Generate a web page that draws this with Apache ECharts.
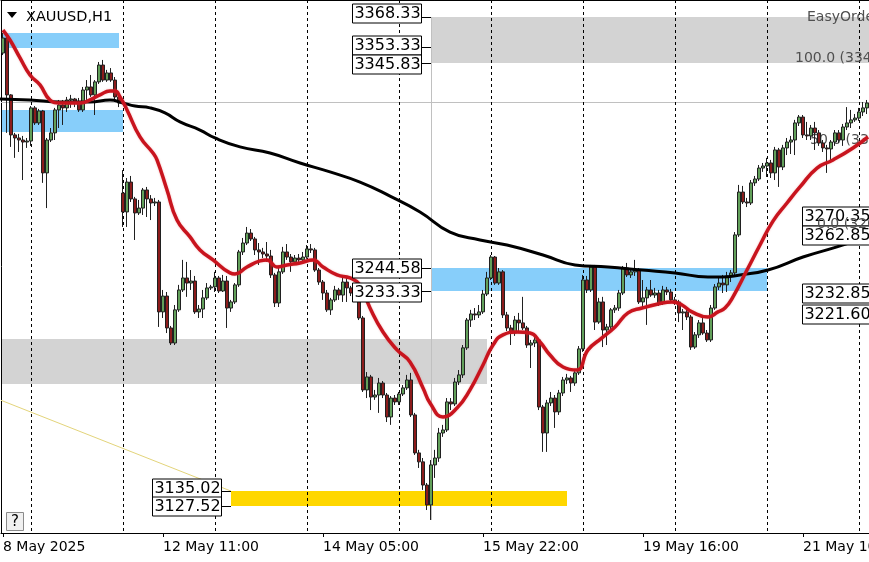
<!DOCTYPE html>
<html><head><meta charset="utf-8">
<script src="https://cdn.jsdelivr.net/npm/echarts@6.0.0/dist/echarts.min.js"></script>
<style>html,body{margin:0;padding:0;background:#fff}#c{width:869px;height:562px}</style>
</head><body><div id="c"></div>
<script>
// ---------- DATA ----------
const tickLabels = ['8 May 2025', '12 May 11:00', '14 May 05:00', '15 May 22:00', '19 May 16:00', '21 May 10:00'];
const barsPerTick = 40;

const opens = [
3350.6,3358.0,3330.0,3310.3,3308.8,3307.8,3306.8,3307.3,3323.6,3316.2,
3322.1,3291.6,3307.8,3311.3,3322.6,3325.0,3323.6,3327.5,3328.0,3326.0,
3322.6,3332.4,3333.9,3330.0,3336.4,3344.7,3337.3,3340.8,3337.3,3329.0,
3281.7,3272.4,3287.1,3278.8,3271.9,3274.3,3283.2,3278.8,3276.8,3277.3,
3223.2,3231.0,3215.3,3207.9,3224.2,3234.0,3239.9,3237.4,3238.4,3223.2,
3224.6,3230.1,3235.0,3235.5,3239.9,3233.5,3238.4,3225.1,3228.1,3236.5,
3252.7,3257.1,3262.0,3259.1,3253.7,3252.7,3251.7,3250.7,3241.4,3227.6,
3242.9,3252.7,3250.2,3247.8,3249.7,3248.8,3250.2,3254.2,3253.7,3243.8,
3237.9,3232.5,3224.2,3229.1,3234.0,3231.5,3237.9,3235.0,3232.5,3235.0,
3220.2,3184.8,3191.2,3181.3,3182.3,3188.2,3182.3,3171.5,3180.8,3178.9,
3182.8,3185.8,3189.7,3172.5,3153.8,3149.4,3138.0,3128.2,3147.9,3151.3,
3163.6,3165.1,3178.9,3177.9,3188.7,3192.2,3205.5,3219.2,3222.2,3221.7,
3223.2,3232.0,3239.9,3250.2,3237.4,3242.9,3221.7,3215.3,3212.8,3219.2,
3217.8,3215.3,3206.9,3207.9,3209.4,3176.4,3163.6,3178.4,3180.8,3174.0,
3183.3,3189.7,3190.7,3188.2,3193.2,3205.0,3238.9,3234.0,3245.3,3218.2,
3228.1,3214.3,3215.8,3224.2,3225.1,3232.5,3244.8,3241.4,3242.9,3243.8,
3228.1,3230.1,3234.0,3231.5,3232.5,3227.6,3234.0,3233.0,3229.1,3228.1,
3222.7,3223.2,3220.7,3205.9,3211.9,3217.8,3212.8,3209.4,3225.1,3235.5,
3237.4,3236.5,3240.9,3242.4,3261.1,3282.2,3277.3,3276.8,3286.7,3288.6,
3294.0,3295.0,3296.5,3291.6,3302.9,3294.5,3303.9,3306.8,3307.8,3316.2,
3319.1,3310.3,3309.8,3313.7,3311.3,3306.3,3303.9,3303.4,3306.8,3311.3,
3307.8,3314.2,3316.2,3317.7,3318.6,3321.6,3323.6];

const closes = [
3358.0,3330.0,3310.3,3308.8,3307.8,3306.8,3307.3,3323.6,3316.2,3322.1,
3291.6,3307.8,3311.3,3322.6,3325.0,3323.6,3327.5,3328.0,3326.0,3322.6,
3332.4,3333.9,3330.0,3336.4,3344.7,3337.3,3340.8,3337.3,3329.0,3326.0,
3272.4,3287.1,3278.8,3271.9,3274.3,3283.2,3278.8,3276.8,3277.3,3223.2,
3231.0,3215.3,3207.9,3224.2,3234.0,3239.9,3237.4,3238.4,3223.2,3224.6,
3230.1,3235.0,3235.5,3239.9,3233.5,3238.4,3225.1,3228.1,3236.5,3252.7,
3257.1,3262.0,3259.1,3253.7,3252.7,3251.7,3250.7,3241.4,3227.6,3242.9,
3252.7,3250.2,3247.8,3249.7,3248.8,3250.2,3254.2,3253.7,3243.8,3237.9,
3232.5,3224.2,3229.1,3234.0,3231.5,3237.9,3235.0,3232.5,3235.0,3220.2,
3184.8,3191.2,3181.3,3182.3,3188.2,3182.3,3171.5,3180.8,3178.9,3182.8,
3185.8,3189.7,3172.5,3153.8,3149.4,3138.0,3128.2,3147.9,3151.3,3163.6,
3165.1,3178.9,3177.9,3188.7,3192.2,3205.5,3219.2,3222.2,3221.7,3223.2,
3232.0,3239.9,3250.2,3237.4,3242.9,3221.7,3215.3,3212.8,3219.2,3217.8,
3215.3,3206.9,3207.9,3209.4,3176.4,3163.6,3178.4,3180.8,3174.0,3183.3,
3189.7,3190.7,3188.2,3193.2,3205.0,3238.9,3234.0,3245.3,3218.2,3228.1,
3214.3,3215.8,3224.2,3225.1,3232.5,3244.8,3241.4,3242.9,3243.8,3228.1,
3230.1,3234.0,3231.5,3232.5,3227.6,3234.0,3233.0,3229.1,3228.1,3222.7,
3223.2,3220.7,3205.9,3211.9,3217.8,3212.8,3209.4,3225.1,3235.5,3237.4,
3236.5,3240.9,3242.4,3261.1,3282.2,3277.3,3276.8,3286.7,3288.6,3294.0,
3295.0,3296.5,3291.6,3302.9,3294.5,3303.9,3306.8,3307.8,3316.2,3319.1,
3310.3,3309.8,3313.7,3311.3,3306.3,3303.9,3303.4,3306.8,3311.3,3307.8,
3314.2,3316.2,3317.7,3318.6,3321.6,3323.6,3326.0];

const highs = [
3360.5,3359.0,3330.4,3311.3,3310.8,3309.8,3308.8,3324.5,3324.5,3323.1,
3322.6,3308.8,3313.7,3323.6,3327.5,3327.5,3329.0,3330.0,3328.5,3328.5,
3333.9,3337.3,3339.8,3337.3,3346.2,3347.2,3342.3,3343.2,3338.8,3330.0,
3293.0,3289.1,3290.1,3279.8,3278.3,3284.2,3284.7,3280.7,3279.3,3278.3,
3234.0,3233.0,3216.3,3226.6,3236.5,3248.8,3247.8,3243.8,3240.9,3226.6,
3234.0,3237.4,3236.5,3242.9,3240.9,3241.4,3240.9,3229.1,3237.4,3253.7,
3259.6,3265.0,3264.0,3260.1,3257.1,3254.7,3257.6,3253.7,3242.4,3244.8,
3255.2,3256.6,3251.7,3251.2,3251.7,3252.7,3256.1,3256.6,3254.7,3244.8,
3238.9,3234.0,3230.1,3236.0,3235.0,3239.9,3239.9,3236.0,3236.9,3236.0,
3221.2,3193.6,3192.2,3184.8,3190.7,3189.2,3183.3,3181.8,3182.3,3183.8,
3187.2,3192.2,3193.2,3173.5,3155.3,3151.3,3139.0,3150.3,3155.3,3166.1,
3167.6,3180.8,3180.8,3190.7,3194.6,3206.9,3220.2,3224.2,3225.1,3226.6,
3234.0,3242.9,3251.2,3250.7,3244.8,3243.8,3223.2,3216.8,3221.2,3222.7,
3230.6,3216.3,3209.4,3211.4,3210.4,3177.4,3179.9,3183.8,3182.3,3184.8,
3191.2,3192.7,3191.7,3194.6,3206.4,3241.4,3240.9,3246.3,3246.3,3230.1,
3230.6,3217.3,3225.1,3226.6,3234.0,3245.8,3247.3,3244.8,3248.8,3244.8,
3238.9,3235.5,3238.9,3235.0,3234.0,3236.0,3235.5,3234.5,3230.6,3229.1,
3224.6,3224.2,3221.7,3213.3,3219.2,3220.7,3214.3,3226.6,3236.9,3239.9,
3241.4,3242.9,3243.8,3262.5,3285.7,3285.2,3279.3,3288.1,3290.1,3295.5,
3296.5,3299.0,3298.0,3304.4,3303.9,3305.4,3308.8,3309.8,3317.7,3320.1,
3320.1,3316.7,3315.2,3316.7,3312.7,3307.8,3305.4,3307.8,3312.7,3312.7,
3315.7,3324.0,3322.6,3320.6,3323.6,3326.5,3327.5];

const lows = [
3349.6,3311.3,3304.4,3299.0,3301.9,3288.1,3303.9,3304.9,3315.2,3315.2,
3286.7,3274.3,3306.8,3307.8,3313.7,3315.2,3321.6,3323.6,3324.0,3321.6,
3321.6,3327.5,3329.0,3320.1,3335.4,3336.4,3336.4,3336.4,3326.5,3324.0,
3265.0,3265.0,3277.3,3258.6,3270.9,3270.9,3269.9,3268.4,3275.3,3215.8,
3220.2,3212.8,3206.9,3206.9,3223.2,3233.0,3230.6,3234.0,3222.2,3220.2,
3220.2,3229.1,3234.0,3233.0,3232.5,3233.0,3215.3,3223.2,3227.1,3235.5,
3251.2,3256.1,3258.1,3251.2,3246.3,3249.7,3247.8,3239.9,3225.6,3225.6,
3241.9,3248.8,3242.9,3246.3,3246.8,3247.3,3249.3,3252.2,3242.9,3236.5,
3229.1,3223.2,3221.7,3228.1,3229.1,3228.1,3228.1,3231.0,3230.1,3219.2,
3183.8,3180.8,3174.9,3179.9,3173.5,3180.8,3169.0,3167.6,3177.4,3177.4,
3181.8,3184.8,3171.5,3152.8,3146.4,3135.6,3125.7,3120.8,3141.5,3149.4,
3161.7,3164.1,3174.9,3176.9,3187.2,3190.7,3204.5,3215.8,3219.2,3220.2,
3222.2,3231.0,3238.9,3236.5,3236.5,3220.2,3213.8,3206.9,3211.4,3212.8,
3214.3,3205.5,3195.6,3205.9,3174.9,3154.3,3154.3,3176.9,3166.1,3172.5,
3181.8,3187.7,3183.8,3186.8,3192.2,3203.5,3232.5,3233.0,3214.3,3217.3,
3205.9,3206.9,3214.8,3222.7,3223.7,3231.5,3240.4,3239.9,3240.9,3227.1,
3225.6,3216.8,3230.6,3230.1,3226.1,3226.6,3231.5,3228.1,3226.6,3218.2,
3214.3,3219.2,3204.5,3205.0,3210.4,3211.9,3208.4,3208.4,3224.2,3234.0,
3232.5,3233.0,3237.9,3240.9,3260.1,3276.3,3274.8,3275.8,3285.2,3287.6,
3292.1,3289.6,3289.1,3288.1,3284.7,3293.0,3300.4,3300.9,3300.4,3314.7,
3308.8,3307.8,3307.8,3302.9,3304.9,3301.9,3291.6,3297.0,3304.9,3306.3,
3304.9,3312.7,3313.7,3316.7,3317.2,3319.6,3320.6];

// moving averages (bar position, price)
const redMaBars = [0,1.75,4.25,6.75,9.25,11.75,14.25,16.75,19.25,21.75,24.25,26.75,28,29.25,31,34.25,37.5,38.5,41,43.5,46.75,49.25,52.5,56.75,58,61,64.25,66,68.5,71,74.25,77.5,80,83.5,86.75,89.25,91.75,95,98.5,101.75,105,106.75,110,113.5,116.75,120,122.5,125,128.5,131.75,134.25,136.75,140,143.5,146.25,149.75,153,156.25,159.75,163.75,167.25,169.75,172.25,176.25,178.75,180.5,182.5,186,189.25,192.5,196,199.25,203.5,207.5,212.5,216.25];
const redMaValues = [3361.9,3357.0,3348.2,3339.8,3334.9,3327.5,3326.0,3326.0,3326.0,3327.5,3330.0,3331.9,3331.9,3329.0,3322.6,3309.3,3301.4,3298.0,3283.2,3268.4,3260.1,3253.7,3248.8,3242.4,3241.9,3245.3,3248.3,3248.8,3245.3,3246.3,3247.3,3248.8,3245.3,3241.4,3239.9,3236.5,3225.1,3213.3,3204.5,3198.6,3185.8,3178.4,3171.5,3175.9,3184.8,3197.1,3206.9,3211.9,3213.3,3212.8,3208.4,3202.0,3196.1,3194.6,3204.5,3210.4,3215.8,3222.7,3225.1,3227.1,3228.1,3226.6,3223.2,3220.7,3223.2,3225.1,3230.6,3243.8,3256.1,3267.9,3276.8,3284.7,3294.0,3298.0,3303.9,3309.3];
const blackMaBars = [-0.75,6.75,14.25,21.75,26.75,30,33,36.75,40.5,44.25,49.25,53,59.25,66.75,74.25,81.75,89.25,96.75,104.25,111.75,119.25,126,135,143,151.25,159.75,168,176.25,179.75,184.25,191.25,200,208.5,216.25];
const blackMaValues = [3328.0,3327.5,3326.5,3326.5,3327.5,3326.0,3324.5,3323.6,3321.1,3316.7,3312.7,3308.8,3304.4,3301.4,3296.5,3292.1,3287.1,3280.2,3272.4,3262.5,3258.6,3256.1,3251.2,3246.3,3245.3,3243.8,3242.4,3240.4,3240.4,3241.4,3243.8,3250.2,3255.2,3260.1];

// zones (bar range, price range)
const zoneStart = [-0.5, -0.5, 107, 107, -0.5, 57];
const zoneEnd = [29, 30, 216.5, 191, 121, 141];
const zoneTop = [3360.4, 3322.6, 3368.33, 3244.58, 3209.9, 3135.02];
const zoneBottom = [3352.9, 3311.7, 3345.83, 3233.33, 3187.7, 3127.52];

// line objects
const segStartBar = [-0.5, 107, -0.5];
const segStartPrice = [3179.7, 3368.33, 3326.4];
const segEndBar = [57, 107, 216.5];
const segEndPrice = [3135.02, 3120.8, 3326.4];

// price labels
const levelTexts = ['3368.33','3353.33','3345.83','3244.58','3233.33','3135.02','3127.52','3270.35','3262.85','3232.85','3221.60'];
const levelValues = [3368.33,3353.33,3345.83,3244.58,3233.33,3135.02,3127.52,3270.35,3262.85,3232.85,3221.60];
const levelAnchorBars = [107,107,107,107,107,57,57,199.75,199.75,199.75,199.75];

// fibo / object texts
const noteTexts = ['EasyOrder', '100.0 (3345.83)', '50.0 (3304.34)', '0.0 (3262.85)'];
const noteBars = [201, 198, 201.75, 203.5];
const notePrices = [3368.33, 3348.2, 3307.8, 3266.5];

// ---------- STYLE / LAYOUT ----------
const zoneColors = ['#87cefa', '#87cefa', '#d3d3d3', '#87cefa', '#d3d3d3', '#ffd700'];
const segColors = ['#e3d47a', '#c0c0c0', '#c0c0c0'];
const levelSide = ['left','left','left','left','left','left','left','right','right','right','right'];
const levelDy = [-4.5, -2.5, 1.5, 0, 1, -3, 0, 0, 3.5, 1, -1];
const noteOnTop = [false, false, false, true];
const FONT = '"DejaVu Sans", Verdana, sans-serif';
const Y_MIN = 3114.39, Y_MAX = 3376.70;
const firstSessionBar = 7, barsPerSession = 23;

const N = opens.length;
const categories = opens.map((_, i) => String(i));
const candles = opens.map((o, i) => [o, closes[i], lows[i], highs[i]]);
const separators = [];
for (let b = firstSessionBar; b < N; b += barsPerSession) separators.push([b, Y_MIN]);

const chart = echarts.init(document.getElementById('c'));

function zoneItem(params, api) {
  const a = api.coord([api.value(0), api.value(1)]);
  const b = api.coord([api.value(2), api.value(3)]);
  const x1 = Math.round(Math.min(a[0], b[0])), x2 = Math.round(Math.max(a[0], b[0]));
  const y1 = Math.round(Math.min(a[1], b[1])), y2 = Math.round(Math.max(a[1], b[1]));
  return { type: 'rect', shape: { x: x1, y: y1, width: x2 - x1, height: y2 - y1 },
    style: { fill: zoneColors[params.dataIndex] } };
}
function segItem(params, api) {
  const a = api.coord([api.value(0), api.value(1)]);
  const b = api.coord([api.value(2), api.value(3)]);
  let x1 = a[0], x2 = b[0], y1 = a[1], y2 = b[1];
  if (Math.abs(x1 - x2) < 0.01) { x1 = x2 = Math.round(x1) + 0.5; }
  if (Math.abs(y1 - y2) < 0.01) { y1 = y2 = Math.round(y1) + 0.5; }
  return { type: 'line', shape: { x1, y1, x2, y2 },
    style: { stroke: segColors[params.dataIndex], lineWidth: 1 } };
}
function sepItem(params, api) {
  const top = api.coord([api.value(0), Y_MAX]);
  const bot = api.coord([api.value(0), Y_MIN]);
  const x = Math.round(top[0]) + 0.5;
  return { type: 'line', shape: { x1: x, y1: top[1], x2: x, y2: bot[1] },
    style: { stroke: '#000', lineWidth: 1, lineDash: [3, 3] } };
}
function levelItem(params, api) {
  const i = params.dataIndex;
  const pt = api.coord([api.value(0), api.value(1)]);
  const w = 69, h = 19;
  const ay = Math.round(pt[1]) + 0.5;
  const cy = Math.round(pt[1] + levelDy[i]);
  const ax = Math.round(pt[0]);
  const bx = levelSide[i] === 'left' ? ax - 10 - w : ax;
  const children = [
    { type: 'rect', shape: { x: bx + 0.5, y: cy - h / 2 + 0.5, width: w, height: h },
      style: { fill: '#fff', stroke: '#000', lineWidth: 1 } },
    { type: 'text', style: { x: bx + w / 2 + 1, y: cy + 1, text: levelTexts[i], align: 'center', verticalAlign: 'middle',
      font: '16px ' + FONT, fill: '#000' } }
  ];
  if (levelSide[i] === 'left') {
    children.push({ type: 'line', shape: { x1: ax - 10, y1: ay, x2: ax, y2: ay }, style: { stroke: '#000', lineWidth: 1 } });
  }
  return { type: 'group', children };
}
function noteItem(params, api) {
  const pt = api.coord([api.value(0), api.value(1)]);
  return { type: 'text', style: { x: pt[0], y: pt[1], text: api.value(2), align: 'left', verticalAlign: 'middle',
    font: '14px ' + FONT, fill: '#505050' } };
}
function noteData(top) {
  const out = [];
  noteTexts.forEach((t, i) => { if (noteOnTop[i] === top) out.push([noteBars[i], notePrices[i], t]); });
  return out;
}

const option = {
  backgroundColor: '#fff',
  animation: false,
  grid: { left: 1, right: 0, top: 0, bottom: 29, outerBoundsMode: 'none', containLabel: false },
  xAxis: [
    { type: 'category', data: categories, boundaryGap: true,
      axisLine: { show: true, lineStyle: { color: '#000', width: 1 } },
      axisTick: { show: true, alignWithLabel: true, interval: barsPerTick - 1, length: 4, lineStyle: { color: '#000' } },
      axisLabel: { show: true, interval: barsPerTick - 1, align: 'left', margin: 7, color: '#000',
        fontFamily: FONT, fontSize: 14, hideOverlap: false,
        formatter: (v, idx) => tickLabels[idx / barsPerTick] || '' },
      splitLine: { show: false } },
    { type: 'value', min: -0.5, max: N - 0.5, position: 'top',
      axisLine: { show: true, onZero: false, lineStyle: { color: '#000', width: 1 } },
      axisTick: { show: false }, axisLabel: { show: false }, splitLine: { show: false } }
  ],
  yAxis: [{ type: 'value', min: Y_MIN, max: Y_MAX, position: 'left',
    axisLine: { show: true, onZero: false, lineStyle: { color: '#000', width: 1 } },
    axisTick: { show: false }, axisLabel: { show: false }, splitLine: { show: false } }],
  graphic: [
    { type: 'polygon', shape: { points: [[7, 12], [17, 12], [12, 18]] }, style: { fill: '#000' }, z: 10 },
    { type: 'text', x: 26, y: 17, style: { text: 'XAUUSD,H1', font: '14.5px ' + FONT, fill: '#000', verticalAlign: 'middle' }, z: 10 },
    { type: 'rect', shape: { x: 6.5, y: 512.5, width: 17, height: 18 }, style: { fill: '#f0f0f0', stroke: '#8a8a8a', lineWidth: 1 }, z: 10 },
    { type: 'text', x: 15, y: 522, style: { text: '?', font: '15px ' + FONT, fill: '#000', align: 'center', verticalAlign: 'middle' }, z: 10 }
  ],
  series: [
    { type: 'custom', name: 'zones', xAxisIndex: 1, yAxisIndex: 0, z: 0, silent: true,
      data: zoneStart.map((s, i) => [s, zoneTop[i], zoneEnd[i], zoneBottom[i]]), renderItem: zoneItem },
    { type: 'custom', name: 'objects', xAxisIndex: 1, yAxisIndex: 0, z: 1, silent: true,
      data: segStartBar.map((s, i) => [s, segStartPrice[i], segEndBar[i], segEndPrice[i]]), renderItem: segItem },
    { type: 'custom', name: 'separators', xAxisIndex: 1, yAxisIndex: 0, z: 1, silent: true,
      data: separators, renderItem: sepItem },
    { type: 'custom', name: 'notesBack', xAxisIndex: 1, yAxisIndex: 0, z: 1, silent: true,
      data: noteData(false), renderItem: noteItem },
    { type: 'candlestick', name: 'XAUUSD', xAxisIndex: 0, yAxisIndex: 0, z: 2, silent: true,
      data: candles, barWidth: 3,
      itemStyle: { color: '#62a05a', color0: '#8c1c1c', borderColor: '#202020', borderColor0: '#202020', borderWidth: 1 } },
    { type: 'line', name: 'MA slow', xAxisIndex: 1, yAxisIndex: 0, z: 3, silent: true, smooth: 0.5,
      showSymbol: false, symbol: 'none',
      data: blackMaBars.map((b, i) => [b, blackMaValues[i]]), lineStyle: { color: '#000', width: 3 } },
    { type: 'line', name: 'MA fast', xAxisIndex: 1, yAxisIndex: 0, z: 3, silent: true, smooth: 0.5,
      showSymbol: false, symbol: 'none',
      data: redMaBars.map((b, i) => [b, redMaValues[i]]),
      lineStyle: { color: '#c8141e', width: 3.5, shadowColor: 'rgba(230,90,90,0.45)', shadowBlur: 2 } },
    { type: 'custom', name: 'levels', xAxisIndex: 1, yAxisIndex: 0, z: 5, silent: true,
      data: levelValues.map((v, i) => [levelAnchorBars[i], v]), renderItem: levelItem },
    { type: 'custom', name: 'notesFront', xAxisIndex: 1, yAxisIndex: 0, z: 6, silent: true,
      data: noteData(true), renderItem: noteItem }
  ]
};
chart.setOption(option);
</script></body></html>
